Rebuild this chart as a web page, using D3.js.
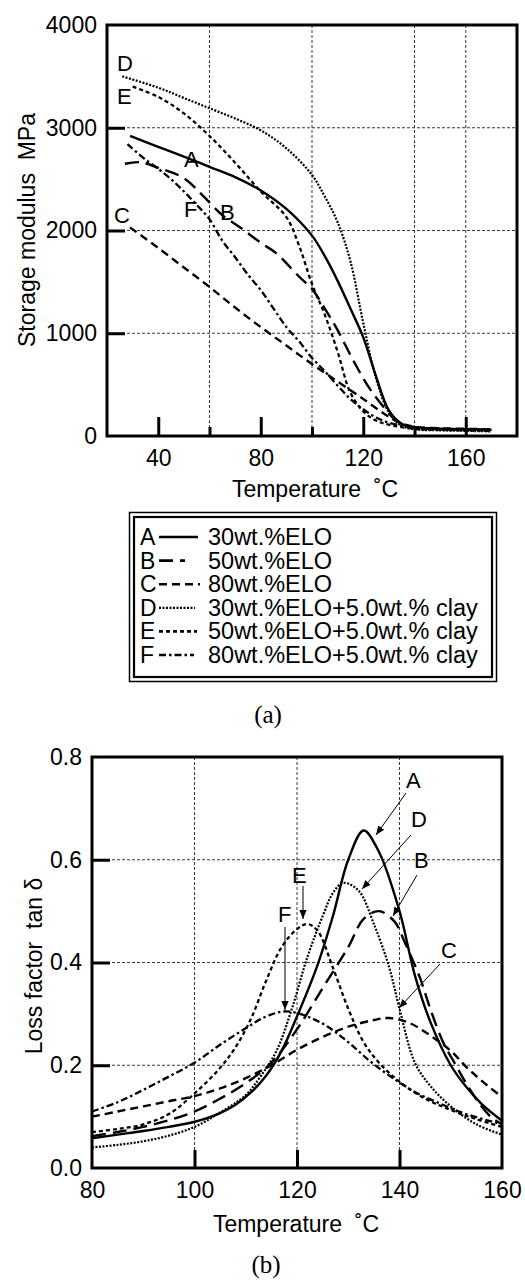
<!DOCTYPE html>
<html><head><meta charset="utf-8">
<script src="https://cdn.jsdelivr.net/npm/d3@7"></script>
<style>
body{margin:0;background:#fff;}
svg{display:block;}
text{font-family:"Liberation Sans",Arial,sans-serif;fill:#000;}
</style></head>
<body>
<svg id="c" width="525" height="1281"></svg>
<script>
// ---------- DATA (a) storage modulus ----------
const tempA_a = [29,40,50,60,70,80,90,100,105,110,115,120,125,130,135,140,150,160,170];
const modA    = [2920,2815,2720,2620,2520,2390,2210,1950,1750,1510,1240,960,580,250,120,85,70,65,60];
const tempB_a = [27,33,40,50,57,65,72,80,86,95,100,105,110,116,122,128,132,136,140,150,160,170];
const modB    = [2650,2665,2610,2510,2350,2150,2030,1880,1780,1550,1430,1240,1030,740,480,280,170,110,85,70,65,60];
const tempC_a = [29,40,50,60,70,80,90,100,110,120,128,134,140,150,160,170];
const modC    = [2030,1830,1640,1450,1250,1060,880,700,530,360,220,130,90,75,70,65];
const tempD_a = [26,40,50,60,70,80,90,100,105,110,115,120,125,130,135,140,150,160,170];
const modD    = [3500,3390,3290,3190,3090,2975,2800,2540,2330,2080,1700,1100,560,230,100,65,55,50,45];
const tempE_a = [30,40,50,60,70,80,90,95,100,105,110,115,120,125,130,140,150,160,170];
const modE    = [3400,3300,3140,2920,2660,2380,2130,1850,1480,1180,820,420,240,150,110,70,60,55,50];
const tempF_a = [28,35,40,45,50,55,60,65,70,75,80,85,90,95,100,105,110,115,120,125,130,140,150,160,170];
const modF    = [2840,2690,2600,2500,2380,2250,2110,1900,1740,1570,1420,1240,1060,920,760,630,490,360,260,180,130,80,65,60,55];

// ---------- DATA (b) loss factor ----------
const tempA_b = [80,85,90,95,100,105,108,111,114,117,120,124,127,130,133,136,140,143,146,150,153,156,160];
const tanA    = [0.058,0.065,0.072,0.08,0.09,0.107,0.123,0.147,0.18,0.228,0.295,0.395,0.49,0.6,0.657,0.615,0.5,0.375,0.285,0.2,0.158,0.125,0.092];
const tempB_b = [80,85,90,95,100,105,110,115,120,125,130,133,136,139,141,144,146,148.5,151,153,156,158,160];
const tanB    = [0.062,0.07,0.08,0.093,0.11,0.135,0.165,0.205,0.27,0.35,0.43,0.485,0.5,0.48,0.44,0.37,0.31,0.245,0.2,0.165,0.12,0.098,0.085];
const tempC_b = [80,85,90,95,100,105,110,115,120,125,130,135,138,142,146,150,153,156,160];
const tanC    = [0.1,0.11,0.12,0.13,0.14,0.155,0.175,0.2,0.23,0.255,0.275,0.288,0.292,0.282,0.258,0.228,0.197,0.17,0.138];
const tempD_b = [80,85,90,95,100,105,110,113,116,119,122,125,127,129,132,135,138,140,143,146,150,155,160];
const tanD    = [0.04,0.045,0.052,0.063,0.08,0.108,0.142,0.18,0.228,0.31,0.41,0.49,0.535,0.555,0.54,0.475,0.39,0.31,0.205,0.16,0.12,0.085,0.065];
const tempE_b = [80,85,90,95,100,105,108,111,114,117,120,122,124,127,130,133,136,140,145,150,155,160];
const tanE    = [0.07,0.076,0.085,0.105,0.145,0.195,0.235,0.29,0.365,0.43,0.465,0.475,0.462,0.39,0.31,0.245,0.205,0.168,0.135,0.113,0.095,0.08];
const tempF_b = [80,85,90,95,100,105,110,114,118,122,126,130,134,138,143,148,153,160];
const tanF    = [0.11,0.128,0.152,0.178,0.205,0.24,0.272,0.295,0.305,0.295,0.275,0.245,0.21,0.18,0.148,0.125,0.105,0.085];

// ---------- TICKS / LABELS ----------
const aXMajor = [40,80,120,160];
const aXMinor = [60,100,140];
const aXGrid  = [60,100,140,160];
const aYTicks = [0,1000,2000,3000,4000];
const aYGrid  = [1000,2000,3000];
const bXTicks = [80,100,120,140,160];
const bXGrid  = [100,120,140];
const bYTicks = [0,0.2,0.4,0.6,0.8];
const bYGrid  = [0.2,0.4,0.6];
const seriesKeys = ["A","B","C","D","E","F"];
const legendLabels = ["30wt.%ELO","50wt.%ELO","80wt.%ELO","30wt.%ELO+5.0wt.% clay","50wt.%ELO+5.0wt.% clay","80wt.%ELO+5.0wt.% clay"];

const styles = {
  A:{dash:null,w:2.4},
  B:{dash:"14,7",w:2.4},
  C:{dash:"8,5",w:2.4},
  D:{dash:"2,1.5",w:2.2},
  E:{dash:"4,3",w:2.3},
  F:{dash:"7,3,2.5,3",w:2.3}
};

const svg = d3.select("#c");
const defs = svg.append("defs");
defs.append("marker").attr("id","arr").attr("viewBox","0 0 10 10").attr("refX",10).attr("refY",5)
  .attr("markerWidth",9).attr("markerHeight",9).attr("markerUnits","userSpaceOnUse").attr("orient","auto")
  .append("path").attr("d","M0,1 L10,5 L0,9 Z").attr("fill","#000");

function drawPanel(o){
  const g = svg.append("g");
  const x = d3.scaleLinear().domain(o.xd).range([o.l,o.r]);
  const y = d3.scaleLinear().domain(o.yd).range([o.b,o.t]);
  // grid
  g.selectAll(".gx").data(o.xGrid).join("line")
    .attr("x1",d=>x(d)).attr("x2",d=>x(d)).attr("y1",o.t).attr("y2",o.b)
    .attr("stroke","#222").attr("stroke-width",0.9).attr("stroke-dasharray","3,2");
  g.selectAll(".gy").data(o.yGrid).join("line")
    .attr("y1",d=>y(d)).attr("y2",d=>y(d)).attr("x1",o.l).attr("x2",o.r)
    .attr("stroke","#222").attr("stroke-width",0.9).attr("stroke-dasharray","3,2");
  // axes (labels + inward ticks)
  const ax = g.append("g").attr("transform",`translate(0,${o.b})`)
    .call(d3.axisBottom(x).tickValues(o.xMajor).tickSize(-o.majLen).tickPadding(14).tickFormat(d3.format("d")));
  const axm = g.append("g").attr("transform",`translate(0,${o.b})`)
    .call(d3.axisBottom(x).tickValues(o.xMinor).tickSize(-o.minLen).tickFormat(""));
  const ay = g.append("g").attr("transform",`translate(${o.l},0)`)
    .call(d3.axisLeft(y).tickValues(o.yTicks).tickSize(-18).tickPadding(10).tickFormat(o.yFmt));
  [ax,axm,ay].forEach(a=>{
    a.select(".domain").remove();
    a.selectAll("line").attr("stroke","#000").attr("stroke-width",3);
    a.selectAll("text").attr("font-size",23).attr("font-family","Liberation Sans, Arial, sans-serif").attr("fill","#000");
  });
  ax.selectAll("text").attr("dy","0.71em");
  ay.selectAll("line").filter(d=>d===o.yd[0]||d===o.yd[1]).remove();
  ax.selectAll("line").filter(d=>d===o.xd[0]||d===o.xd[1]).remove();
  // curves
  const line = d3.line().x(d=>x(d[0])).y(d=>y(d[1])).curve(d3.curveCatmullRom.alpha(0.5));
  o.series.forEach(s=>{
    const st = styles[s.k];
    g.append("path").datum(d3.zip(s.t,s.v)).attr("d",line)
      .attr("fill","none").attr("stroke","#000").attr("stroke-width",st.w)
      .attr("stroke-dasharray",st.dash).attr("stroke-linejoin","round");
  });
  // frame
  g.append("rect").attr("x",o.l).attr("y",o.t).attr("width",o.r-o.l).attr("height",o.b-o.t)
    .attr("fill","none").attr("stroke","#000").attr("stroke-width",3);
  // axis titles
  g.append("text").attr("x",o.xtX).attr("y",o.xtY).attr("text-anchor","middle").attr("font-size",23)
    .style("white-space","pre").text("Temperature  ˚C");
  g.append("text").attr("transform",`translate(${o.ytX},${o.ytY}) rotate(-90)`).attr("text-anchor","middle")
    .attr("font-size",23).style("white-space","pre").text(o.yTitle);
  // labels
  o.labels.forEach(l=>{
    g.append("text").attr("x",l.x).attr("y",l.y).attr("font-size",22).text(l.k);
  });
  return {x,y,g};
}

const pa = drawPanel({
  xd:[20,180], yd:[0,4000], l:107, r:517, t:25, b:436,
  xGrid:aXGrid, yGrid:aYGrid, xMajor:aXMajor, xMinor:aXMinor, yTicks:aYTicks,
  majLen:19, minLen:9, yFmt:d3.format("d"),
  xtX:315, xtY:497, ytX:35, ytY:230, yTitle:"Storage modulus  MPa",
  series:[
    {k:"A",t:tempA_a,v:modA},{k:"B",t:tempB_a,v:modB},{k:"C",t:tempC_a,v:modC},
    {k:"D",t:tempD_a,v:modD},{k:"E",t:tempE_a,v:modE},{k:"F",t:tempF_a,v:modF}],
  labels:[{k:"D",x:117,y:71},{k:"E",x:117,y:104},{k:"A",x:184,y:167},{k:"F",x:184,y:217},{k:"B",x:220,y:220},{k:"C",x:114,y:223}]
});

const pb = drawPanel({
  xd:[80,160], yd:[0,0.8], l:92, r:502, t:757, b:1168,
  xGrid:bXGrid, yGrid:bYGrid, xMajor:bXTicks, xMinor:[], yTicks:bYTicks,
  majLen:18, minLen:0, yFmt:d3.format(".1f"),
  xtX:296, xtY:1232, ytX:42, ytY:966, yTitle:"Loss factor  tan δ",
  series:[
    {k:"A",t:tempA_b,v:tanA},{k:"B",t:tempB_b,v:tanB},{k:"C",t:tempC_b,v:tanC},
    {k:"D",t:tempD_b,v:tanD},{k:"E",t:tempE_b,v:tanE},{k:"F",t:tempF_b,v:tanF}],
  labels:[{k:"A",x:406,y:788},{k:"D",x:411,y:827},{k:"B",x:414,y:868},{k:"C",x:441,y:958},{k:"E",x:292,y:883},{k:"F",x:278,y:922}]
});

// arrows in (b)
const arrows = [
  [406,793,376,835],[411,835,362,889],[417,875,393,916],[440,964,399,1008],[303,886,303,919],[285,927,285,1010]
];
svg.append("g").selectAll("line").data(arrows).join("line")
  .attr("x1",d=>d[0]).attr("y1",d=>d[1]).attr("x2",d=>d[2]).attr("y2",d=>d[3])
  .attr("stroke","#000").attr("stroke-width",1).attr("marker-end","url(#arr)");

// legend
const lg = svg.append("g");
lg.append("rect").attr("x",129.5).attr("y",512.5).attr("width",367).attr("height",169).attr("fill","none").attr("stroke","#000").attr("stroke-width",1.5);
lg.append("rect").attr("x",134).attr("y",517).attr("width",358).attr("height",160).attr("fill","none").attr("stroke","#000").attr("stroke-width",2.2);
const sampleEnd = {A:198,B:185,C:200,D:195,E:197,F:194};
seriesKeys.forEach((k,i)=>{
  const by = 545 + i*23.6;
  lg.append("text").attr("x",140).attr("y",by).attr("font-size",23).text(k);
  lg.append("line").attr("x1",159).attr("x2",sampleEnd[k]).attr("y1",by-8).attr("y2",by-8)
    .attr("stroke","#000").attr("stroke-width",k==="D"?2.2:2.6).attr("stroke-dasharray",styles[k].dash);
  lg.append("text").attr("x",208).attr("y",by).attr("font-size",23.5).text(legendLabels[i]);
});

// captions
svg.append("text").attr("x",268).attr("y",723).attr("text-anchor","middle").attr("font-size",25)
  .style("font-family","Liberation Serif, Times New Roman, serif").text("(a)");
svg.append("text").attr("x",266).attr("y",1273).attr("text-anchor","middle").attr("font-size",25)
  .style("font-family","Liberation Serif, Times New Roman, serif").text("(b)");
</script>
</body></html>
